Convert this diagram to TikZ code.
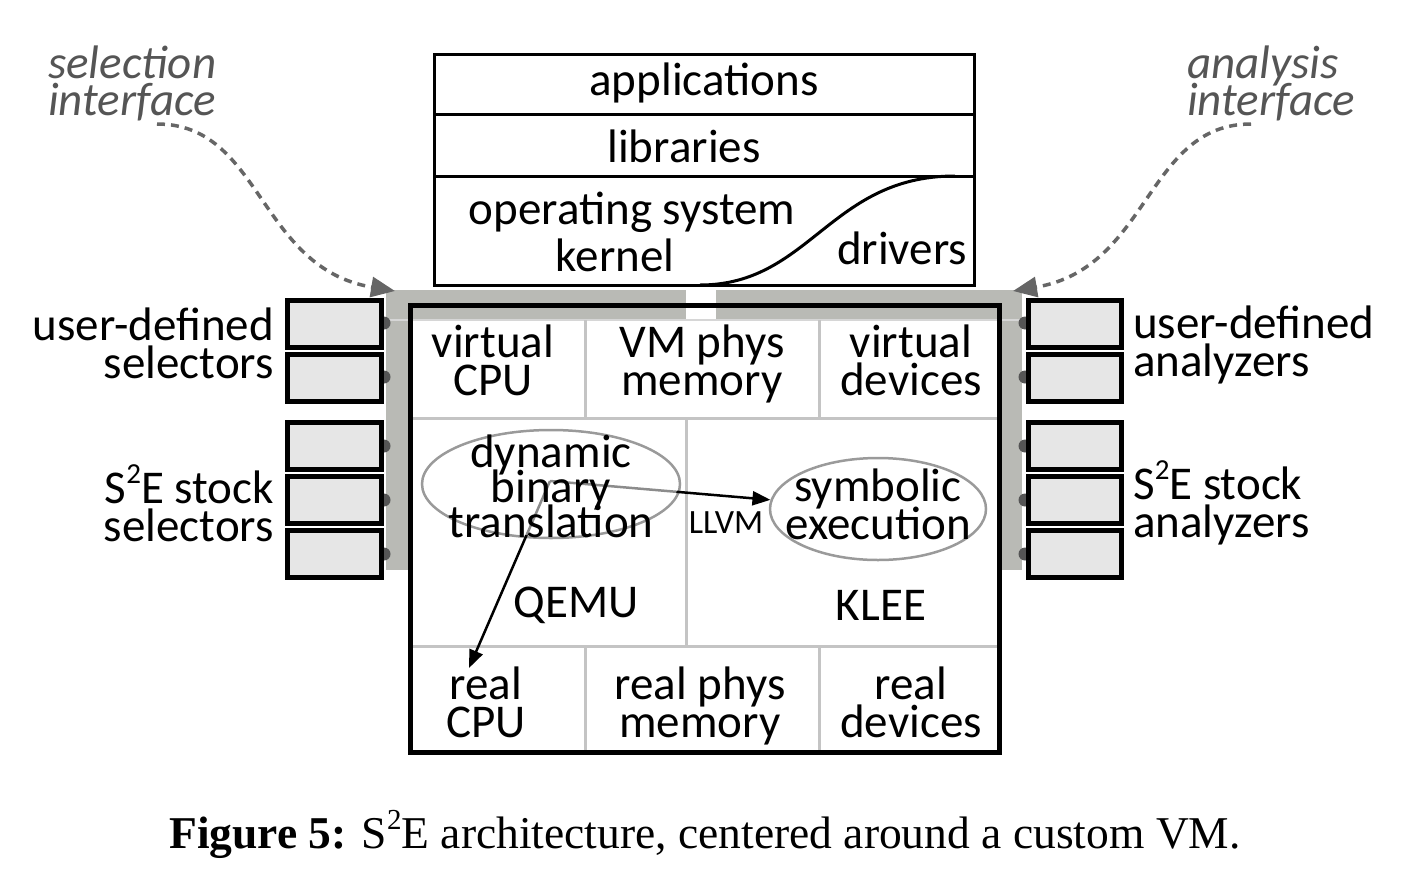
\documentclass[tikz,border=0pt]{standalone}
\usepackage{fontspec}
\setmainfont{Carlito}
\newfontfamily\capfont{Liberation Serif}
\usetikzlibrary{shapes.geometric,arrows.meta}
\definecolor{band}{HTML}{B9BAB5}
\definecolor{boxc}{HTML}{E6E6E6}
\definecolor{gridc}{HTML}{C4C4C4}
\definecolor{ellc}{HTML}{9A9A9A}
\definecolor{dotc}{HTML}{555555}
\definecolor{intc}{HTML}{555555}
\definecolor{dashc}{HTML}{666666}
\newcommand\suptwo{\raisebox{0.42em}{\fontsize{29}{29}\selectfont 2}}
\newcommand\capsuptwo{\raisebox{0.40em}{\fontsize{29}{29}\selectfont 2}}
\newcommand\tightlines{\setlength{\lineskiplimit}{-100pt}}
\begin{document}
\begin{tikzpicture}[x=1pt,y=-1pt,
  txt/.style={font=\fontsize{47}{38}\selectfont\tightlines, inner sep=0pt, align=center},
  smalltxt/.style={font=\fontsize{34}{34}\selectfont, inner sep=0pt},
  inttxt/.style={font=\fontsize{47}{37}\selectfont\itshape\tightlines, text=intc, inner sep=0pt, align=left},
  gridline/.style={draw=gridc, line width=3pt},
  selbox/.style={draw=black, line width=5pt, fill=boxc},
  plug/.style={fill=dotc},
  ell/.style={draw=ellc, line width=2.5pt, ellipse, inner sep=0pt},
  flowarrow/.style={draw=black, line width=2.5pt, -{Triangle[length=18pt,width=14pt]}},
  intarrow/.style={draw=dashc, line width=3.5pt, dash pattern=on 8pt off 6pt, -{Triangle[length=24pt,width=20pt,fill=dashc]}}
]
\useasboundingbox (0,0) rectangle (1404,870);

% gray interface band
\fill[band] (386,290) rectangle (686,320);
\fill[band] (716,290) rectangle (1022,320);
\fill[band] (386,290) rectangle (410,570);
\fill[band] (999,290) rectangle (1022,570);
\draw[draw=gridc!70, line width=1.5pt] (386,320) -- (1022,320);

% grid of the VM
\draw[gridline] (410,418) -- (999,418);
\draw[gridline] (410,646) -- (999,646);
\draw[gridline] (585,320) -- (585,418);
\draw[gridline] (819,320) -- (819,418);
\draw[gridline] (686,418) -- (686,646);
\draw[gridline] (585,646) -- (585,752);
\draw[gridline] (819,646) -- (819,752);
\draw[line width=5pt] (410,305) rectangle (999,752);

% guest software stack
\draw[line width=3pt] (434,54) rectangle (974,285);
\draw[line width=3pt] (434,114) -- (974,114);
\draw[line width=3pt] (434,176) -- (974,176);
\draw[line width=3pt] (700,285) .. controls (810,285) and (830,176) .. (955,176);
\node[txt] (apps) at (704,83) {applications};
\node[txt] (libs) at (684,146) {libraries};
\node[txt] (os1) at (632,212) {operating system};
\node[txt] (os2) at (615,255) {kernel};
\node[txt] (drv) at (902,248) {drivers};

% plugs and boxes, left
\foreach \yc in {323,377,446,500,554} \fill[plug] (384,\yc) circle (6.5pt);
\foreach \yt in {300,354,422,476,530} \draw[selbox] (287,\yt) rectangle (381,\yt+47);
% plugs and boxes, right
\foreach \yc in {323,377,446,500,554} \fill[plug] (1025,\yc) circle (6.5pt);
\foreach \yt in {300,354,422,476,530} \draw[selbox] (1028,\yt) rectangle (1121,\yt+47);

% cells text
\node[txt] (vcpu) at (493,360) {virtual\\CPU};
\node[txt] (vmem) at (702,364) {VM phys\\memory};
\node[txt] (vdev) at (911,360) {virtual\\devices};
\node[txt] (rcpuT) at (486,702) {real\\CPU};
\node[txt] (rmem) at (700,706) {real phys\\memory};
\node[txt] (rdev) at (911,702) {real\\devices};
\node[txt] (qemu) at (576,605) {QEMU};
\node[txt] (klee) at (881,605) {KLEE};
\node[smalltxt] (llvm) at (726,523) {LLVM};

% arrows and ellipses
\coordinate (src) at (550,481);
\coordinate (rcpu) at (469,668);
\node[ell, minimum width=258pt, minimum height=108pt] (dbt) at (551,484) {};
\node[ell, minimum width=216pt, minimum height=102pt] (symb) at (878,509) {};
\draw[flowarrow] (src) -- (symb);
\draw[flowarrow] (src) -- (rcpu);
\fill[white, opacity=0.55] (dbt.center) ellipse (127pt and 52pt);
\node[txt, font=\fontsize{47}{35}\selectfont\tightlines] (dbtT) at (551,486) {dynamic\\binary\\translation};
\node[txt] (symbT) at (878,504) {symbolic\\execution};

% side labels
\node[txt, align=right, anchor=east] (usel) at (274,343) {user-defined\\selectors};
\node[txt, align=right, anchor=east] (ssel) at (274,503) {S\suptwo E stock\\selectors};
\node[txt, align=left, anchor=west] (uana) at (1133,345) {user-defined\\analyzers};
\node[txt, align=left, anchor=west] (sana) at (1133,503) {S\suptwo E stock\\analyzers};

% interface labels and arrows
\node[inttxt, anchor=west] (selint) at (48,83) {selection\\interface};
\node[inttxt, anchor=west] (anaint) at (1187,83) {analysis\\interface};
\coordinate (selstart) at (157,124);
\coordinate (seltip) at (395,291);
\coordinate (anastart) at (1251,124);
\coordinate (anatip) at (1013,291);
\draw[intarrow] (selstart) .. controls (262,124) and (258,268) .. (seltip);
\draw[intarrow] (anastart) .. controls (1146,124) and (1150,268) .. (anatip);

% caption
\node[font=\capfont\fontsize{45.5}{45.5}\selectfont, inner sep=0pt, anchor=base] (cap) at (705,848) {\textbf{Figure 5:} S\capsuptwo E architecture, centered around a custom VM.};
\end{tikzpicture}
\end{document}
